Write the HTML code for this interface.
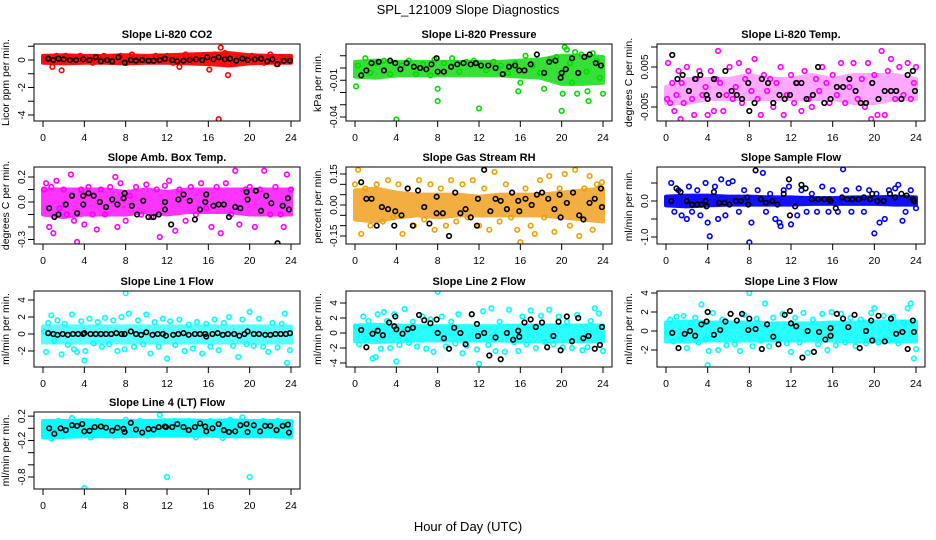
<!DOCTYPE html>
<html><head><meta charset="utf-8"><style>
html,body{margin:0;padding:0;background:#fff}
svg{display:block;font-family:"Liberation Sans",sans-serif}
</style></head><body>
<svg id="chart" width="936" height="540" viewBox="0 0 936 540">
<text x="468" y="14" text-anchor="middle" font-size="13">SPL_121009  Slope Diagnostics</text>
<text x="468" y="531" text-anchor="middle" font-size="13">Hour of Day (UTC)</text>
</svg>
<script>
const bandHours=[0,2,4,6,8,10,12,14,16,18,20,22,24];
const xTicks=[0,4,8,12,16,20,24];

const co2X=[0.2,0.5,0.9,1.3,1.8,2.2,2.7,3.1,3.6,4.2,4.8,5.3,5.9,6.4,7.0,7.5,8.1,8.6,9.2,9.8,10.3,10.9,11.4,12.0,12.6,13.2,13.8,14.3,14.9,15.5,16.1,16.6,17.0,17.2,17.6,17.9,18.4,19.0,19.6,20.2,20.8,21.4,22.0,22.6,23.2,23.8];
const co2Y=[0.1,0.2,-0.5,0.3,-0.75,0.3,0.2,-0.1,0.3,0.1,-0.2,0.2,0.3,-0.1,0.2,0.3,-0.2,0.4,0.1,0.2,-0.1,0.3,0.2,0.3,-0.2,-0.5,0.4,0.1,0.3,0.3,-0.7,0.4,-4.3,0.9,0.5,-1.1,-0.3,0.2,0.1,0.3,0.2,-0.2,0.4,-0.3,0.2,0.1];
const co2BX=[0.5,1.0,1.5,2.0,2.6,3.2,3.9,4.5,5.1,5.6,6.2,6.7,7.3,7.9,8.5,9.0,9.6,10.2,10.7,11.3,11.8,12.5,13.0,13.6,14.2,14.8,15.4,15.9,16.5,17.0,17.6,18.1,18.7,19.3,19.8,20.5,21.1,21.7,22.2,22.7,23.3,23.9];
const co2BY=[0.1,0,0.1,0.05,0,0,0.05,0,0.2,-0.1,0,-0.1,0.2,-0.2,0,-0.05,0,-0.05,-0.05,0,0.1,0,-0.1,-0.05,0,0.05,0,0.2,0.05,0.2,0.05,0.1,-0.05,0.1,0,0.05,0.1,-0.1,0.05,-0.3,-0.05,-0.05];
const co2Lo=[-0.2,-0.25,-0.2,-0.2,-0.25,-0.2,-0.2,-0.25,-0.3,-0.4,-0.25,-0.2,-0.2];
const co2Hi=[0.3,0.35,0.3,0.3,0.35,0.3,0.35,0.4,0.45,0.5,0.35,0.3,0.3];

const presX=[0.1,0.3,0.6,1.0,1.5,2.1,2.8,3.4,4.0,4.5,5.2,5.9,6.6,7.3,7.7,8.0,8.0,8.6,9.4,10.1,10.8,11.5,12.0,12.7,13.4,14.1,14.8,15.5,15.8,16.0,16.5,17.2,17.9,18.3,18.9,19.5,20.0,20.1,20.3,20.5,20.8,21.0,21.3,21.5,21.9,22.4,22.5,22.6,23.0,23.4,23.7,24.0];
const presY=[-0.015,0.002,-0.006,0.008,-0.004,0.004,0.006,-0.005,-0.042,0.002,0.006,-0.005,0.003,-0.006,0.007,-0.017,-0.027,0.004,0.008,-0.003,0.005,0.006,-0.033,-0.002,0.005,0.002,-0.004,0.004,-0.019,-0.012,0.01,0.002,-0.004,-0.017,0.007,0.009,-0.035,-0.021,0.017,0.015,0.004,-0.012,0.013,-0.021,0.011,-0.003,-0.019,-0.027,0.012,0.006,-0.008,-0.021];
const presBX=[0.6,1.1,1.6,2.3,2.8,3.4,3.9,4.4,5.0,5.7,6.3,6.9,7.4,7.9,8.0,8.6,9.3,9.9,10.5,11.2,11.7,12.2,12.9,13.6,14.3,14.9,15.5,15.9,16.4,17.0,17.6,18.3,18.8,19.4,19.9,20.0,20.4,21.0,21.6,22.2,22.7,23.3,23.8];
const presBY=[-0.006,-0.002,0.004,0.005,-0.002,0.006,0.004,-0.001,0.004,0.001,0,-0.001,0.003,0.008,-0.003,-0.003,0.001,0.003,0.004,0.003,0.004,0.002,0.002,0,-0.005,0.001,0.002,-0.002,-0.002,0.003,0.011,-0.004,0.005,0.006,-0.008,-0.004,-0.001,0.008,-0.004,0.009,0.011,0.004,0.002];
const presLo=[-0.007,-0.008,-0.006,-0.006,-0.006,-0.006,-0.006,-0.006,-0.007,-0.008,-0.013,-0.013,-0.012];
const presHi=[0.005,0.006,0.005,0.005,0.005,0.005,0.005,0.005,0.006,0.007,0.01,0.01,0.009];

const ltX=[0.1,0.2,0.4,0.6,0.8,1.0,1.2,1.4,1.5,1.7,2.0,2.2,2.5,2.7,2.9,3.2,3.5,3.8,4.0,4.3,4.6,4.8,5.0,5.2,5.5,5.8,6.1,6.4,6.7,7.0,7.3,7.6,7.9,8.2,8.5,8.8,9.1,9.4,9.7,10.0,10.3,10.6,11.0,11.3,11.6,12.0,12.3,12.6,13.0,13.3,13.7,14.0,14.4,14.7,15.0,15.4,15.7,16.0,16.4,16.8,17.2,17.6,18.0,18.4,18.8,19.1,19.4,19.7,20.0,20.3,20.7,21.0,21.3,21.6,22.0,22.4,22.8,23.2,23.5,23.8,24.0];
const ltY=[-0.003,0.006,-0.004,0.001,-0.006,-0.002,0.004,-0.008,0.001,-0.004,0.005,-0.001,-0.003,-0.007,0.002,0.004,-0.002,0.0,-0.007,0.004,-0.006,0.002,0.009,0.001,-0.006,-0.002,0.005,-0.003,0.0,0.006,-0.004,0.002,0.004,-0.001,0.007,-0.003,-0.007,0.003,-0.001,0.002,-0.005,0.001,0.005,-0.007,-0.002,0.003,-0.004,0.001,-0.006,0.004,-0.003,-0.005,0.002,-0.001,0.005,0.001,-0.004,0.003,-0.002,0.006,-0.004,0.0,0.006,-0.003,0.002,-0.005,0.006,-0.008,0.003,-0.007,0.009,-0.007,0.004,0.007,-0.003,0.005,-0.002,0.006,-0.003,0.001,0.005];
const ltBX=[0.6,1.1,1.6,2.2,2.8,3.3,3.9,4.0,4.6,5.1,5.7,6.3,6.8,7.3,7.9,8.0,8.5,9.2,9.8,10.3,10.9,11.4,11.9,12.5,13.0,13.5,14.1,14.6,15.2,15.8,16.4,17.0,17.6,18.2,18.7,19.2,19.8,20.4,21.0,21.6,22.1,22.6,23.2,23.7,23.9];
const ltBY=[0.008,0.002,0.003,-0.001,0.002,0.003,-0.002,-0.003,0.002,-0.002,0.004,-0.001,-0.002,-0.003,0.001,-0.006,-0.004,0.002,0.001,-0.004,-0.002,-0.003,-0.002,0.001,0.001,-0.003,-0.002,0.005,-0.004,-0.003,0.0,0.0,0.002,-0.001,-0.004,-0.004,0.001,-0.003,-0.001,-0.001,-0.001,-0.003,0.003,0.004,-0.001];
const ltLo=[-0.004,-0.004,-0.003,-0.003,-0.003,-0.003,-0.003,-0.003,-0.003,-0.004,-0.004,-0.003,-0.003];
const ltHi=[0.0,0.002,0.002,0.002,0.003,0.002,0.002,0.003,0.002,0.003,0.003,0.003,0.002];

const atX=[0.1,0.3,0.6,0.8,1.0,1.3,1.6,2.0,2.3,2.7,3.0,3.3,3.7,4.0,4.4,4.8,5.2,5.6,6.0,6.5,7.0,7.2,7.5,8.0,8.4,9.0,9.5,10.0,10.5,11.0,11.3,11.8,12.2,12.8,13.2,13.8,14.3,14.8,15.3,15.8,16.3,16.8,17.2,17.7,18.2,18.6,19.0,19.6,20.0,20.5,21.0,21.4,22.0,22.5,23.0,23.3,23.6,24.0];
const atY=[0.1,0.15,-0.2,0.12,-0.25,0.17,-0.05,0.1,-0.1,0.22,-0.15,-0.32,0.1,-0.18,0.12,-0.1,-0.22,0.1,-0.1,0.12,0.2,-0.2,0.15,-0.15,0.05,0.12,-0.1,0.14,-0.12,0.1,-0.28,0.13,0.17,-0.23,0.1,-0.15,0.12,-0.1,0.15,-0.05,-0.2,0.12,-0.25,0.15,-0.1,0.25,-0.18,0.1,0.12,-0.2,0.1,0.25,-0.1,0.12,-0.1,-0.2,0.22,0.1];
const atBX=[0.6,1.1,1.5,2.2,2.8,3.3,3.9,3.9,4.4,4.9,5.5,6.1,6.7,7.2,7.8,7.9,8.6,9.1,9.7,10.2,10.7,11.2,11.8,11.8,12.4,13.1,13.6,14.2,14.7,15.2,15.7,15.8,16.5,17.0,17.5,18.0,18.6,19.1,19.7,19.8,20.6,21.1,21.6,22.1,22.7,23.2,23.7,23.8];
const atBY=[-0.05,-0.12,-0.1,-0.02,0.05,-0.09,-0.02,0.05,0.07,0.05,0.0,-0.04,0.02,-0.02,0.03,0.07,-0.03,-0.1,0.01,-0.12,-0.12,-0.1,-0.06,0.0,-0.18,0.02,0.06,0.01,-0.14,-0.06,0.0,0.06,-0.03,-0.02,-0.02,-0.12,-0.04,-0.05,0.08,0.02,0.09,-0.07,0.05,-0.01,-0.33,-0.03,0.03,-0.06];
const atLo=[-0.1,-0.12,-0.1,-0.1,-0.1,-0.08,-0.1,-0.08,-0.08,-0.08,-0.1,-0.1,-0.1];
const atHi=[0.1,0.1,0.1,0.1,0.08,0.1,0.08,0.1,0.1,0.1,0.1,0.1,0.1];

const rhX=[0,0.3,0.6,1.0,1.5,2.1,2.7,3.2,3.7,4.2,4.6,5.1,5.7,6.2,6.7,7.3,7.7,8.3,8.8,9.3,9.8,10.4,10.9,11.4,12.0,12.5,13.0,13.5,14.0,14.6,15.1,15.7,16.0,16.5,17.0,17.4,17.9,18.3,18.8,19.3,19.8,20.3,20.8,21.3,21.7,22.2,22.7,23.0,23.4,23.9];
const rhY=[0.1,0.17,-0.14,0.08,-0.1,0.1,-0.08,0.12,-0.06,0.1,-0.14,0.08,-0.1,0.12,-0.07,0.1,-0.12,0.08,-0.1,0.12,-0.08,0.1,-0.06,0.12,-0.1,0.08,-0.12,0.16,-0.08,0.1,-0.06,-0.12,-0.18,0.08,-0.1,-0.14,0.12,-0.06,0.14,-0.13,0.08,0.15,-0.1,0.17,-0.15,0.08,0.14,-0.12,0.1,0.11];
const rhBX=[0.6,1.1,1.6,2.1,2.6,3.2,3.8,3.9,4.5,5.1,5.6,6.1,6.7,7.2,7.9,7.9,8.5,9.1,9.7,10.2,10.7,11.2,11.8,11.9,12.5,13.1,13.6,14.1,14.7,15.2,15.8,15.9,16.5,17.1,17.6,18.1,18.7,19.3,19.8,19.9,20.5,21.1,21.7,22.1,22.7,23.2,23.8,23.9];
const rhBY=[0.11,0.03,0.03,-0.1,-0.01,-0.02,-0.1,-0.03,-0.05,0.08,-0.1,0.07,-0.01,-0.09,0.04,-0.04,-0.04,-0.15,0.06,-0.04,-0.02,-0.06,-0.1,0.03,0.17,-0.03,0.03,0.02,-0.02,0.06,0.02,-0.03,0.03,0.0,0.05,0.06,0.03,-0.02,0.05,-0.06,0.01,0.06,-0.05,-0.07,0.01,0.03,0.08,-0.01];
const rhLo=[-0.07,-0.08,-0.06,-0.05,-0.06,-0.05,-0.05,-0.05,-0.05,-0.05,-0.06,-0.07,-0.08];
const rhHi=[0.07,0.08,0.06,0.05,0.05,0.05,0.04,0.05,0.05,0.05,0.06,0.07,0.08];

const sfX=[0.5,0.8,1.2,1.5,2.0,2.2,2.5,3.0,3.3,3.8,4.0,4.2,4.7,5.0,5.3,5.7,6.0,6.4,7.0,7.5,8.0,8.2,8.8,9.3,9.6,10.0,10.5,10.9,11.0,11.3,11.8,12.0,12.6,13.0,13.5,14.0,14.5,15.0,15.6,16.0,16.5,17.0,17.3,17.8,18.5,19.0,19.5,20.0,20.2,20.5,21.0,21.4,22.0,22.3,22.7,23.0,23.5,24.0];
const sfY=[0.5,-0.3,0.3,-0.4,-0.5,0.4,-0.3,0.3,-0.4,0.5,-0.6,-0.98,0.4,-0.5,0.6,-0.4,0.5,0.55,-0.3,0.3,-1.15,-0.6,0.3,0.78,-0.3,0.2,-0.5,-0.6,-0.7,0.3,0.4,-0.65,-0.4,0.3,-0.3,0.2,-0.3,0.4,-0.3,0.3,-0.3,0.88,0.3,-0.3,0.35,-0.3,0.3,-0.9,0.2,-0.6,-0.5,0.3,0.35,0.45,-0.55,-0.3,0.3,-0.2];
const sfBX=[0.5,1.0,1.4,2.0,2.5,3.0,3.4,3.8,3.9,4.6,5.1,5.6,6.1,6.7,7.2,7.8,7.9,8.6,9.1,9.6,10.2,10.7,11.3,11.8,11.9,12.4,13.0,13.4,14.0,14.6,15.2,15.7,15.8,16.3,16.9,17.4,17.9,18.5,19.0,19.6,19.8,20.3,20.9,21.5,22.0,22.6,23.1,23.7,23.8];
const sfBY=[0.0,0.35,0.25,0.0,-0.1,-0.1,-0.1,0.0,-0.15,0.25,-0.05,-0.05,-0.1,0.0,0.0,0.1,-0.1,0.85,0.05,-0.05,0.0,-0.1,0.2,0.6,-0.4,-0.15,0.45,0.35,0.05,0.05,0.05,0.05,0.0,-0.2,0.1,0.05,0.05,0.05,0.1,0.05,0.2,0.0,0.0,0.2,0.1,0.2,0.15,0.05,0.0];
const sfLo=[-0.12,-0.15,-0.12,-0.1,-0.1,-0.1,-0.1,-0.08,-0.08,-0.08,-0.08,-0.1,-0.1];
const sfHi=[0.12,0.15,0.15,0.12,0.12,0.1,0.1,0.08,0.08,0.1,0.1,0.12,0.1];

const l1X=[0.1,0.3,0.5,0.8,1.1,1.4,1.8,2.1,2.4,2.8,3.0,3.3,3.7,4.0,4.1,4.5,4.9,5.3,5.7,6.0,6.4,6.8,7.2,7.6,7.9,8.0,8.3,8.8,9.2,9.7,10.0,10.4,10.8,11.2,11.6,12.0,12.3,12.8,13.2,13.7,14.1,14.5,14.9,15.4,15.8,16.2,16.6,17.0,17.5,18.0,18.4,18.9,19.3,19.7,20.0,20.4,20.9,21.3,21.8,22.2,22.7,23.1,23.4,23.6,23.9];
const l1Y=[0.3,-2.1,1.3,2.2,-0.8,1.6,-2.4,1.2,-1.3,2.3,-1.8,-2.1,1.5,-3.1,-2.0,1.8,-1.1,1.4,-1.5,1.9,-1.2,1.6,-2.0,2.0,-1.8,4.8,2.4,-1.5,1.6,-1.2,2.3,-2.3,1.4,-1.5,1.8,-2.9,1.5,-1.3,1.7,-2.0,1.1,-1.7,1.4,-2.3,1.2,-1.5,1.7,-1.9,1.3,2.0,-1.4,-2.7,1.7,-1.2,2.6,-1.4,1.8,-1.5,-2.1,1.3,-1.6,1.2,2.4,-3.4,-1.9];
const l1BX=[0.5,1.0,1.4,1.9,2.4,2.9,3.4,3.9,4.0,4.6,5.1,5.6,6.1,6.6,7.1,7.6,7.9,8.5,9.0,9.5,10.0,10.6,11.1,11.6,11.9,12.6,13.1,13.6,14.1,14.7,15.2,15.7,15.8,16.4,16.9,17.4,17.9,18.5,19.0,19.5,19.8,20.4,20.9,21.5,22.0,22.5,23.0,23.5,23.9];
const l1BY=[0.1,0,-0.1,0,-0.1,0,0,0,0.1,0,0,0,0,0,0.1,0,0,0.3,0,-0.1,0.2,-0.1,0,0,-0.2,-0.1,0,0.1,-0.1,0,0,0,-0.3,0,0.1,-0.1,0,0,-0.2,0,0.3,0,0,-0.1,-0.1,0,0,0,0.1];
const l1Lo=[-1,-1,-1,-1,-1,-1,-1,-1,-1,-1,-1,-1,-1];
const l1Hi=[0.9,0.9,0.9,0.9,0.9,0.9,0.9,0.9,0.9,0.9,0.9,0.9,0.9];

const l2X=[0.1,0.4,0.8,1.0,1.3,1.7,2.0,2.2,2.5,2.8,3.1,3.4,3.8,4.0,4.3,4.8,5.2,5.6,6.0,6.5,6.9,7.3,7.6,8.0,8.4,8.8,9.3,9.7,10.0,10.4,10.8,11.3,11.8,12.0,12.4,12.9,13.2,13.6,14.0,14.5,14.9,15.4,15.8,16.2,16.6,17.0,17.5,18.0,18.4,18.8,19.2,19.7,20.1,20.5,21.0,21.5,22.0,22.5,22.8,23.2,23.6,24.0];
const l2Y=[0.8,-1.5,2.2,-0.8,1.6,-3.4,-3.2,2.5,-2.1,2.8,1.6,-2.0,2.5,-3.8,-1.6,3.2,-1.3,1.5,-1.8,2.2,-2.1,1.8,-2.5,5.5,2.2,-1.8,1.5,-1.4,2.5,-2.7,-1.7,2.5,-2.2,-4.1,2.9,-1.6,3.3,-2.4,1.5,-2.5,3.1,-1.2,-2.4,2.2,-1.5,3.0,-2.0,2.3,-1.2,3.1,-1.5,2.2,-1.9,1.5,-2.0,2.4,-2.3,-1.9,1.6,3.3,2.6,-2.4];
const l2BX=[0.6,1.1,1.7,2.2,2.7,3.3,3.8,3.9,4.0,4.6,5.1,5.6,6.2,6.7,7.3,7.9,8.0,8.6,9.1,9.6,10.2,10.7,11.3,11.8,11.9,12.5,13.0,13.6,14.1,14.7,15.3,15.8,15.9,16.4,17.0,17.5,18.1,18.6,19.2,19.7,19.9,20.5,21.0,21.6,22.1,22.6,23.2,23.7,23.9];
const l2BY=[0.4,-1.9,-0.1,0.3,-0.3,1.4,0.9,2.2,0.5,-0.1,0.5,0.7,2.4,1.7,1.3,1.8,0,-0.7,-2.1,0.7,0,-1.5,2.5,1.2,-0.4,0,-3,-0.6,-3.5,0,-0.9,0.3,-0.5,1.4,1.8,0.8,1.4,-1.9,-0.4,1.5,-2.3,2.2,-1.1,2.0,-0.7,-0.4,-2.1,-1.6,0.8];
const l2Lo=[-1.1,-1.2,-1.1,-1,-1,-1,-1,-1,-1.1,-1.1,-1.1,-1.1,-1.1];
const l2Hi=[1,1.1,1,0.9,0.9,0.9,0.9,0.9,1,1,1,1,1];

const l3X=[0.1,0.4,0.7,1.0,1.4,1.7,2.0,2.4,2.8,3.1,3.4,3.8,4.0,4.1,4.5,5.0,5.4,5.8,6.2,6.6,7.1,7.5,8.0,8.3,8.7,9.1,9.5,9.9,10.3,10.8,11.2,11.6,12.0,12.4,12.8,13.2,13.6,14.1,14.6,15.0,15.5,15.9,16.3,16.8,17.2,17.7,18.2,18.7,19.2,19.7,20.0,20.4,20.9,21.4,21.8,22.3,22.8,23.2,23.5,23.8,24.0];
const l3Y=[-0.2,1.2,-1.1,1.5,-0.8,1.6,-1.8,0.8,1.4,-1.2,2.8,-0.9,-3.6,-2.1,1.9,-2.0,1.2,-1.5,1.8,-1.4,-2.1,1.7,4.0,-1.6,1.3,-1.0,2.9,-1.6,1.4,-1.0,1.8,-1.3,-2.2,1.4,-1.2,1.9,-2.3,1.2,-1.4,1.8,-2.0,2.0,-1.5,1.8,-1.2,1.4,-1.6,1.2,-1.3,1.9,2.4,-1.2,1.6,-1.0,1.5,-1.3,0.9,2.4,2.9,-2.9,-1.9];
const l3BX=[0.6,1.2,1.8,2.3,2.8,3.4,3.9,4.0,4.6,5.2,5.7,6.2,6.8,7.3,7.9,8.0,8.6,9.2,9.7,10.3,10.8,11.4,11.9,12.0,12.5,13.1,13.6,14.2,14.7,15.3,15.8,15.8,16.4,17.0,17.5,18.1,18.6,19.2,19.7,19.8,20.4,21.0,21.6,22.1,22.7,23.2,23.7,23.8];
const l3BY=[-0.2,-1.8,-0.3,0,-0.5,0.7,1.0,2.0,-0.4,0.1,1.0,1.8,1.1,1.8,0.1,1.3,0.2,-1.9,0.7,-0.6,-1.4,1.7,2.1,0.8,0.5,-2.8,0,-2.2,-0.1,-0.9,0.3,-0.5,1.8,1.3,0.4,1.7,-1.8,0,1.1,-1.0,1.6,-1.1,1.3,-0.3,-0.1,-1.9,1.1,-0.1];
const l3Lo=[-1.1,-1.1,-1,-1,-1,-1,-1,-1,-1,-1.1,-1.1,-1.1,-1.1];
const l3Hi=[0.9,1,0.9,0.9,0.9,0.8,0.8,0.8,0.9,0.9,1,1,1];

const l4X=[0.1,0.8,1.5,2.2,2.8,3.5,4.0,4.6,5.3,6.1,6.8,7.5,8.0,8.7,9.4,10.1,10.8,11.3,12.0,12.7,13.4,14.1,14.8,15.5,16.2,16.9,17.4,18.1,18.7,19.3,20.0,20.6,21.3,22.0,22.7,23.4,24.0];
const l4Y=[-0.05,-0.17,0.12,-0.1,0.17,-0.1,-0.98,-0.15,0.12,-0.1,-0.12,0.1,0.14,-0.1,0.12,-0.12,0.1,0.22,-0.8,0.12,-0.1,0.12,-0.15,0.1,0.12,-0.1,-0.16,0.14,-0.12,0.18,-0.8,-0.1,0.12,-0.1,0.12,-0.12,0.1];
const l4BX=[0.6,1.1,1.7,2.2,2.8,3.3,3.8,4.0,4.5,5.0,5.6,6.1,6.7,7.2,7.8,7.9,8.5,9.0,9.6,10.2,10.7,11.2,11.8,11.9,12.5,13.0,13.6,14.1,14.7,15.2,15.7,15.8,16.4,17.0,17.5,18.0,18.6,19.1,19.7,19.8,20.4,21.0,21.5,22.0,22.6,23.2,23.7,23.8];
const l4BY=[0.0,-0.09,0.0,-0.03,0.05,0.04,0.07,-0.05,-0.04,0.02,0.03,0.01,-0.04,0.01,-0.01,-0.06,0.09,-0.02,-0.07,-0.01,-0.02,0.02,0.03,0.02,0.02,0.07,0.02,-0.03,0.02,0.08,0.03,-0.05,0.0,0.07,-0.03,-0.06,-0.05,0.05,0.07,-0.06,0.05,-0.05,0.04,0.04,-0.03,0.04,0.06,-0.07];
const l4Lo=[-0.15,-0.14,-0.13,-0.13,-0.13,-0.12,-0.12,-0.12,-0.12,-0.13,-0.13,-0.13,-0.14];
const l4Hi=[0.12,0.12,0.13,0.12,0.12,0.12,0.13,0.13,0.12,0.13,0.12,0.12,0.12];

const co2Ticks=[1,0,-1,-2,-3,-4], co2Labels=["","0","","-2","","-4"];
const presTicks=[0.01,0,-0.01,-0.02,-0.03,-0.04], presLabels=["","","-0.01","","","-0.04"];
const ltTicks=[0.01,0.005,0,-0.005], ltLabels=["","0.005","","-0.005"];
const atTicks=[0.2,0.1,0,-0.1,-0.2,-0.3], atLabels=["0.2","","0.0","","","-0.3"];
const rhTicks=[0.15,0.1,0.05,0,-0.05,-0.1,-0.15], rhLabels=["0.15","","","0.00","","","-0.15"];
const sfTicks=[0.5,0,-0.5,-1], sfLabels=["","0.0","","-1.0"];
const l1Ticks=[4,2,0,-2], l1Labels=["4","2","0","-2"];
const l2Ticks=[4,2,0,-2,-4], l2Labels=["4","2","0","-2","-4"];
const l3Ticks=[4,2,0,-2], l3Labels=["4","2","0","-2"];
const l4Ticks=[0.2,0,-0.2,-0.4,-0.6,-0.8], l4Labels=["0.2","","-0.2","","","-0.8"];

const NS="http://www.w3.org/2000/svg";
const svg=document.getElementById('chart');
const colL=[34,346,657], colR=[300,612,925], rowT=[44,167,291,412], rowB=[121,244,367,489];
function mk(tag,attrs,parent){const e=document.createElementNS(NS,tag);for(const k in attrs)e.setAttribute(k,attrs[k]);(parent||svg).appendChild(e);return e;}

const panels=[
 {key:'co2',title:'Slope Li-820 CO2',yt:'Licor ppm per min.',c:0,r:0,v0:0,p0:60,v1:-4,p1:115,col:'#ff0000',band:'#ff1010',op:1,X:co2X,Y:co2Y,BX:co2BX,BY:co2BY,lo:co2Lo,hi:co2Hi,ticks:co2Ticks,labels:co2Labels},
 {key:'pressure',title:'Slope Li-820 Pressure',yt:'kPa per min.',c:1,r:0,v0:0,p0:68,v1:-0.04,p1:117,col:'#00dd00',band:'#22dd22',op:0.9,X:presX,Y:presY,BX:presBX,BY:presBY,lo:presLo,hi:presHi,ticks:presTicks,labels:presLabels},
 {key:'licor-temp',title:'Slope Li-820 Temp.',yt:'degrees C per min.',c:2,r:0,v0:0,p0:87,v1:0.005,p1:67,col:'#ff00ff',band:'#ff40ff',op:0.45,X:ltX,Y:ltY,BX:ltBX,BY:ltBY,lo:ltLo,hi:ltHi,ticks:ltTicks,labels:ltLabels},
 {key:'amb-box-temp',title:'Slope Amb. Box Temp.',yt:'degrees C per min.',c:0,r:1,v0:0,p0:202,v1:0.2,p1:177,col:'#ff00ff',band:'#ff10ff',op:0.85,X:atX,Y:atY,BX:atBX,BY:atBY,lo:atLo,hi:atHi,ticks:atTicks,labels:atLabels},
 {key:'gas-rh',title:'Slope Gas Stream RH',yt:'percent per min.',c:1,r:1,v0:0,p0:205,v1:0.15,p1:174,col:'#f0a000',band:'#f0a020',op:0.85,X:rhX,Y:rhY,BX:rhBX,BY:rhBY,lo:rhLo,hi:rhHi,ticks:rhTicks,labels:rhLabels},
 {key:'sample-flow',title:'Slope Sample Flow',yt:'ml/min per min.',c:2,r:1,v0:0,p0:201,v1:0.5,p1:183,col:'#0000ff',band:'#1010ff',op:1,X:sfX,Y:sfY,BX:sfBX,BY:sfBY,lo:sfLo,hi:sfHi,ticks:sfTicks,labels:sfLabels},
 {key:'line1-flow',title:'Slope Line 1 Flow',yt:'ml/min per min.',c:0,r:2,v0:0,p0:334,v1:2,p1:317,col:'#00ffff',band:'#30ffff',op:0.8,X:l1X,Y:l1Y,BX:l1BX,BY:l1BY,lo:l1Lo,hi:l1Hi,ticks:l1Ticks,labels:l1Labels},
 {key:'line2-flow',title:'Slope Line 2 Flow',yt:'ml/min per min.',c:1,r:2,v0:0,p0:333,v1:4,p1:303,col:'#00ffff',band:'#10ffff',op:0.9,X:l2X,Y:l2Y,BX:l2BX,BY:l2BY,lo:l2Lo,hi:l2Hi,ticks:l2Ticks,labels:l2Labels},
 {key:'line3-flow',title:'Slope Line 3 Flow',yt:'ml/min per min.',c:2,r:2,v0:0,p0:331,v1:4,p1:293,col:'#00ffff',band:'#10ffff',op:0.9,X:l3X,Y:l3Y,BX:l3BX,BY:l3BY,lo:l3Lo,hi:l3Hi,ticks:l3Ticks,labels:l3Labels},
 {key:'line4-flow',title:'Slope Line 4 (LT) Flow',yt:'ml/min per min.',c:0,r:3,v0:0,p0:428.3,v1:-0.8,p1:477,col:'#00ffff',band:'#00ffff',op:1,X:l4X,Y:l4Y,BX:l4BX,BY:l4BY,lo:l4Lo,hi:l4Hi,ticks:l4Ticks,labels:l4Labels}
];

panels.forEach(p=>{
  const L=colL[p.c],R=colR[p.c],T=rowT[p.r],B=rowB[p.r];
  const x0=L+9,x24=R-9;
  const xs=h=>x0+(x24-x0)*h/24;
  const ys=v=>p.p0+(v-p.v0)*(p.p1-p.p0)/(p.v1-p.v0);
  const g=mk('g',{});
  
  
  const clipId='clip-'+p.key;
  const cp=mk('clipPath',{id:clipId},g);
  mk('rect',{x:L,y:T,width:R-L,height:B-T},cp);
  const t=mk('text',{x:(L+R)/2,y:T-6,'text-anchor':'middle','font-size':'11','font-weight':'bold'},g);
  t.textContent=p.title;
  
  
  const yl=mk('text',{x:0,y:0,'text-anchor':'middle','font-size':'10.5',transform:`translate(${L-25},${(T+B)/2}) rotate(-90)`},g);
  yl.textContent=p.yt;
  
  
  const plot=mk('g',{'clip-path':`url(#${clipId})`},g);
  let d='M'+bandHours.map((h,i)=>xs(h)+','+ys(p.hi[i])).join(' L');
  d+=' L'+bandHours.slice().reverse().map((h,i)=>xs(h)+','+ys(p.lo[bandHours.length-1-i])).join(' L')+' Z';
  const band=mk('path',{d:d,fill:p.band,stroke:p.band,'stroke-width':'4','stroke-linejoin':'round',opacity:p.op},plot);
  
  
  const n=Math.min(p.X.length,p.Y.length);
  for(let i=0;i<n;i++){
    const c=mk('circle',{cx:xs(p.X[i]),cy:ys(p.Y[i]),r:2.3,fill:'none',stroke:p.col,'stroke-width':'1.6'},plot);
    
    
  }
  const nb=Math.min(p.BX.length,p.BY.length);
  for(let i=0;i<nb;i++){
    const c=mk('circle',{cx:xs(p.BX[i]),cy:ys(p.BY[i]),r:2.3,fill:'none',stroke:'#000','stroke-width':'1.6'},plot);
    
    
  }
  const box=mk('rect',{x:L,y:T,width:R-L,height:B-T,fill:'none',stroke:'#000','stroke-width':'1'},g);
  
  
  const xa=mk('g',{},g);
  
  
  mk('line',{x1:xs(0),x2:xs(24),y1:B,y2:B,stroke:'#000'},xa);
  xTicks.forEach(h=>{
    mk('line',{x1:xs(h),x2:xs(h),y1:B,y2:B+6,stroke:'#000'},xa);
    const tl=mk('text',{x:xs(h),y:B+20,'text-anchor':'middle','font-size':'10.5'},xa);
    tl.textContent=h;
    
    
  });
  const ya=mk('g',{},g);
  
  
  mk('line',{x1:L,x2:L,y1:ys(p.ticks[0]),y2:ys(p.ticks[p.ticks.length-1]),stroke:'#000'},ya);
  p.ticks.forEach((v,i)=>{
    const y=ys(v);
    mk('line',{x1:L-6,x2:L,y1:y,y2:y,stroke:'#000'},ya);
    if(p.labels[i]){
      const tl=mk('text',{x:0,y:0,'text-anchor':'middle','font-size':'10','transform':`translate(${L-9},${y}) rotate(-90)`},ya);
      tl.textContent=p.labels[i];
      
      
    }
  });
});
</script>
</body></html>
